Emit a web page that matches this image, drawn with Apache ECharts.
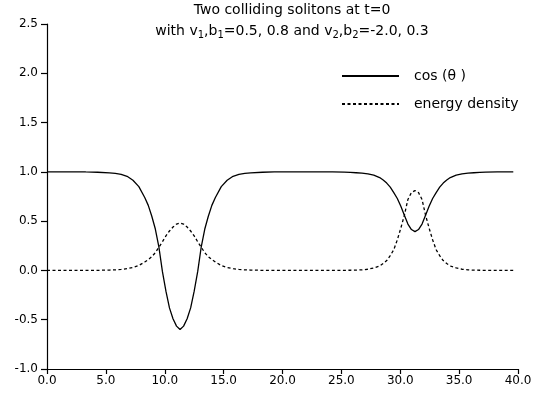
<!DOCTYPE html>
<html>
<head>
<meta charset="utf-8">
<script src="https://cdn.jsdelivr.net/npm/echarts@6/dist/echarts.min.js"></script>
<style>
html,body{margin:0;padding:0;background:#fff;}
#chart{width:538px;height:398px;}
</style>
</head>
<body>
<div id="chart"></div>
<script>
// x positions (spatial coordinate)
const xs = [
  0, 1, 2, 3,
  3.3, 4.3, 5.3, 5.8, 6.3, 6.8, 7.3, 7.8, 8.3, 8.6, 8.9, 9.2, 9.5, 9.8, 10.1, 10.4, 10.7, 11.0, 11.3,
  11.6, 11.9, 12.2, 12.5, 12.8, 13.1, 13.4, 13.7, 14.0, 14.3, 14.8, 15.3, 15.8, 16.3, 16.8, 17.3, 18.3, 19.3,
  20, 21, 22,
  23.25, 24.25, 25.25, 25.75, 26.25, 26.75, 27.25, 27.75, 28.25, 28.55, 28.85, 29.15, 29.45, 29.75, 30.05, 30.35, 30.65, 30.95, 31.25,
  31.55, 31.85, 32.15, 32.45, 32.75, 33.05, 33.35, 33.65, 33.95, 34.25, 34.75, 35.25, 35.75, 36.25, 36.75, 37.25, 38.25, 39.25, 39.6
];
// cos(theta)
const cosTheta = [
  1, 1, 1, 1,
  0.999, 0.996, 0.99, 0.984, 0.975, 0.955, 0.915, 0.85, 0.74, 0.66, 0.55, 0.42, 0.24, -0.01, -0.21, -0.38, -0.49, -0.565, -0.60,
  -0.565, -0.49, -0.38, -0.21, -0.01, 0.24, 0.42, 0.55, 0.66, 0.74, 0.85, 0.915, 0.955, 0.975, 0.984, 0.99, 0.996, 0.999,
  1, 1, 1,
  1.0, 0.999, 0.997, 0.994, 0.991, 0.987, 0.979, 0.966, 0.942, 0.917, 0.886, 0.845, 0.79, 0.73, 0.65, 0.56, 0.47, 0.415, 0.394,
  0.415, 0.47, 0.56, 0.65, 0.73, 0.79, 0.845, 0.886, 0.917, 0.942, 0.966, 0.979, 0.987, 0.991, 0.994, 0.997, 0.999, 1.0, 1.0
];
// energy density
const energyDensity = [
  0, 0, 0, 0,
  0, 0.001, 0.004, 0.006, 0.01, 0.018, 0.03, 0.05, 0.085, 0.11, 0.14, 0.18, 0.235, 0.29, 0.35, 0.40, 0.44, 0.47, 0.48,
  0.47, 0.44, 0.40, 0.35, 0.29, 0.235, 0.18, 0.14, 0.11, 0.085, 0.05, 0.03, 0.018, 0.01, 0.006, 0.004, 0.001, 0,
  0, 0, 0,
  0, 0, 0.001, 0.002, 0.003, 0.006, 0.012, 0.025, 0.045, 0.07, 0.10, 0.15, 0.21, 0.31, 0.43, 0.56, 0.72, 0.79, 0.81,
  0.79, 0.72, 0.56, 0.43, 0.31, 0.21, 0.15, 0.10, 0.07, 0.045, 0.025, 0.012, 0.006, 0.003, 0.002, 0.001, 0, 0, 0
];
const seriesNames = ['cos (\u03b8 )', 'energy density'];
const titleLine1 = 'Two colliding solitons at t=0';

const FONT = 'DejaVu Sans';
const chart = echarts.init(document.getElementById('chart'), null, {renderer: 'canvas'});
chart.setOption({
  animation: false,
  backgroundColor: '#fff',
  title: {
    text: '{a|' + titleLine1 + '}\n{a|with v}{s|1}{a|,b}{s|1}{a|=0.5, 0.8 and v}{s|2}{a|,b}{s|2}{a|=-2.0, 0.3}',
    left: 292,
    textAlign: 'center',
    top: 0,
    padding: 0,
    textStyle: {
      fontFamily: FONT, fontWeight: 'normal', fontSize: 14, color: '#000', lineHeight: 21,
      rich: {
        a: {fontFamily: FONT, fontSize: 14, color: '#000', lineHeight: 21},
        s: {fontFamily: FONT, fontSize: 10, color: '#000', lineHeight: 11, padding: [8, 0, 0, 0]}
      }
    }
  },
  legend: {
    orient: 'vertical',
    left: 341,
    top: 69,
    padding: 0,
    itemWidth: 57,
    itemHeight: 14,
    itemGap: 14,
    data: seriesNames,
    itemStyle: {opacity: 0},
    textStyle: {fontFamily: FONT, fontSize: 14, color: '#000', padding: [0, 0, 0, 10]}
  },
  grid: {left: 47, right: 20, top: 24, bottom: 29, containLabel: false},
  xAxis: {
    type: 'value', min: 0, max: 40, interval: 5,
    axisLine: {show: true, onZero: false, lineStyle: {color: '#000', width: 1.2}},
    axisTick: {show: true, length: 5, inside: false, lineStyle: {color: '#000', width: 1.2}},
    axisLabel: {fontFamily: FONT, fontSize: 12, color: '#000', margin: 6, formatter: v => v.toFixed(1)},
    splitLine: {show: false}
  },
  yAxis: {
    type: 'value', min: -1, max: 2.5, interval: 0.5,
    axisLine: {show: true, onZero: false, lineStyle: {color: '#000', width: 1.2}},
    axisTick: {show: true, length: 6, inside: false, lineStyle: {color: '#000', width: 1.2}},
    axisLabel: {fontFamily: FONT, fontSize: 12, color: '#000', margin: 9, formatter: v => v.toFixed(1)},
    splitLine: {show: false}
  },
  series: [
    {
      name: seriesNames[0], type: 'line', symbol: 'none', smooth: false,
      data: xs.map((x, i) => [x, cosTheta[i]]),
      lineStyle: {color: '#000', width: 1.3, type: 'solid'},
      itemStyle: {color: '#000'}
    },
    {
      name: seriesNames[1], type: 'line', symbol: 'none', smooth: false,
      data: xs.map((x, i) => [x, energyDensity[i]]),
      lineStyle: {color: '#000', width: 1.3, type: [3, 2.5]},
      itemStyle: {color: '#000'}
    }
  ]
});
</script>
</body>
</html>
